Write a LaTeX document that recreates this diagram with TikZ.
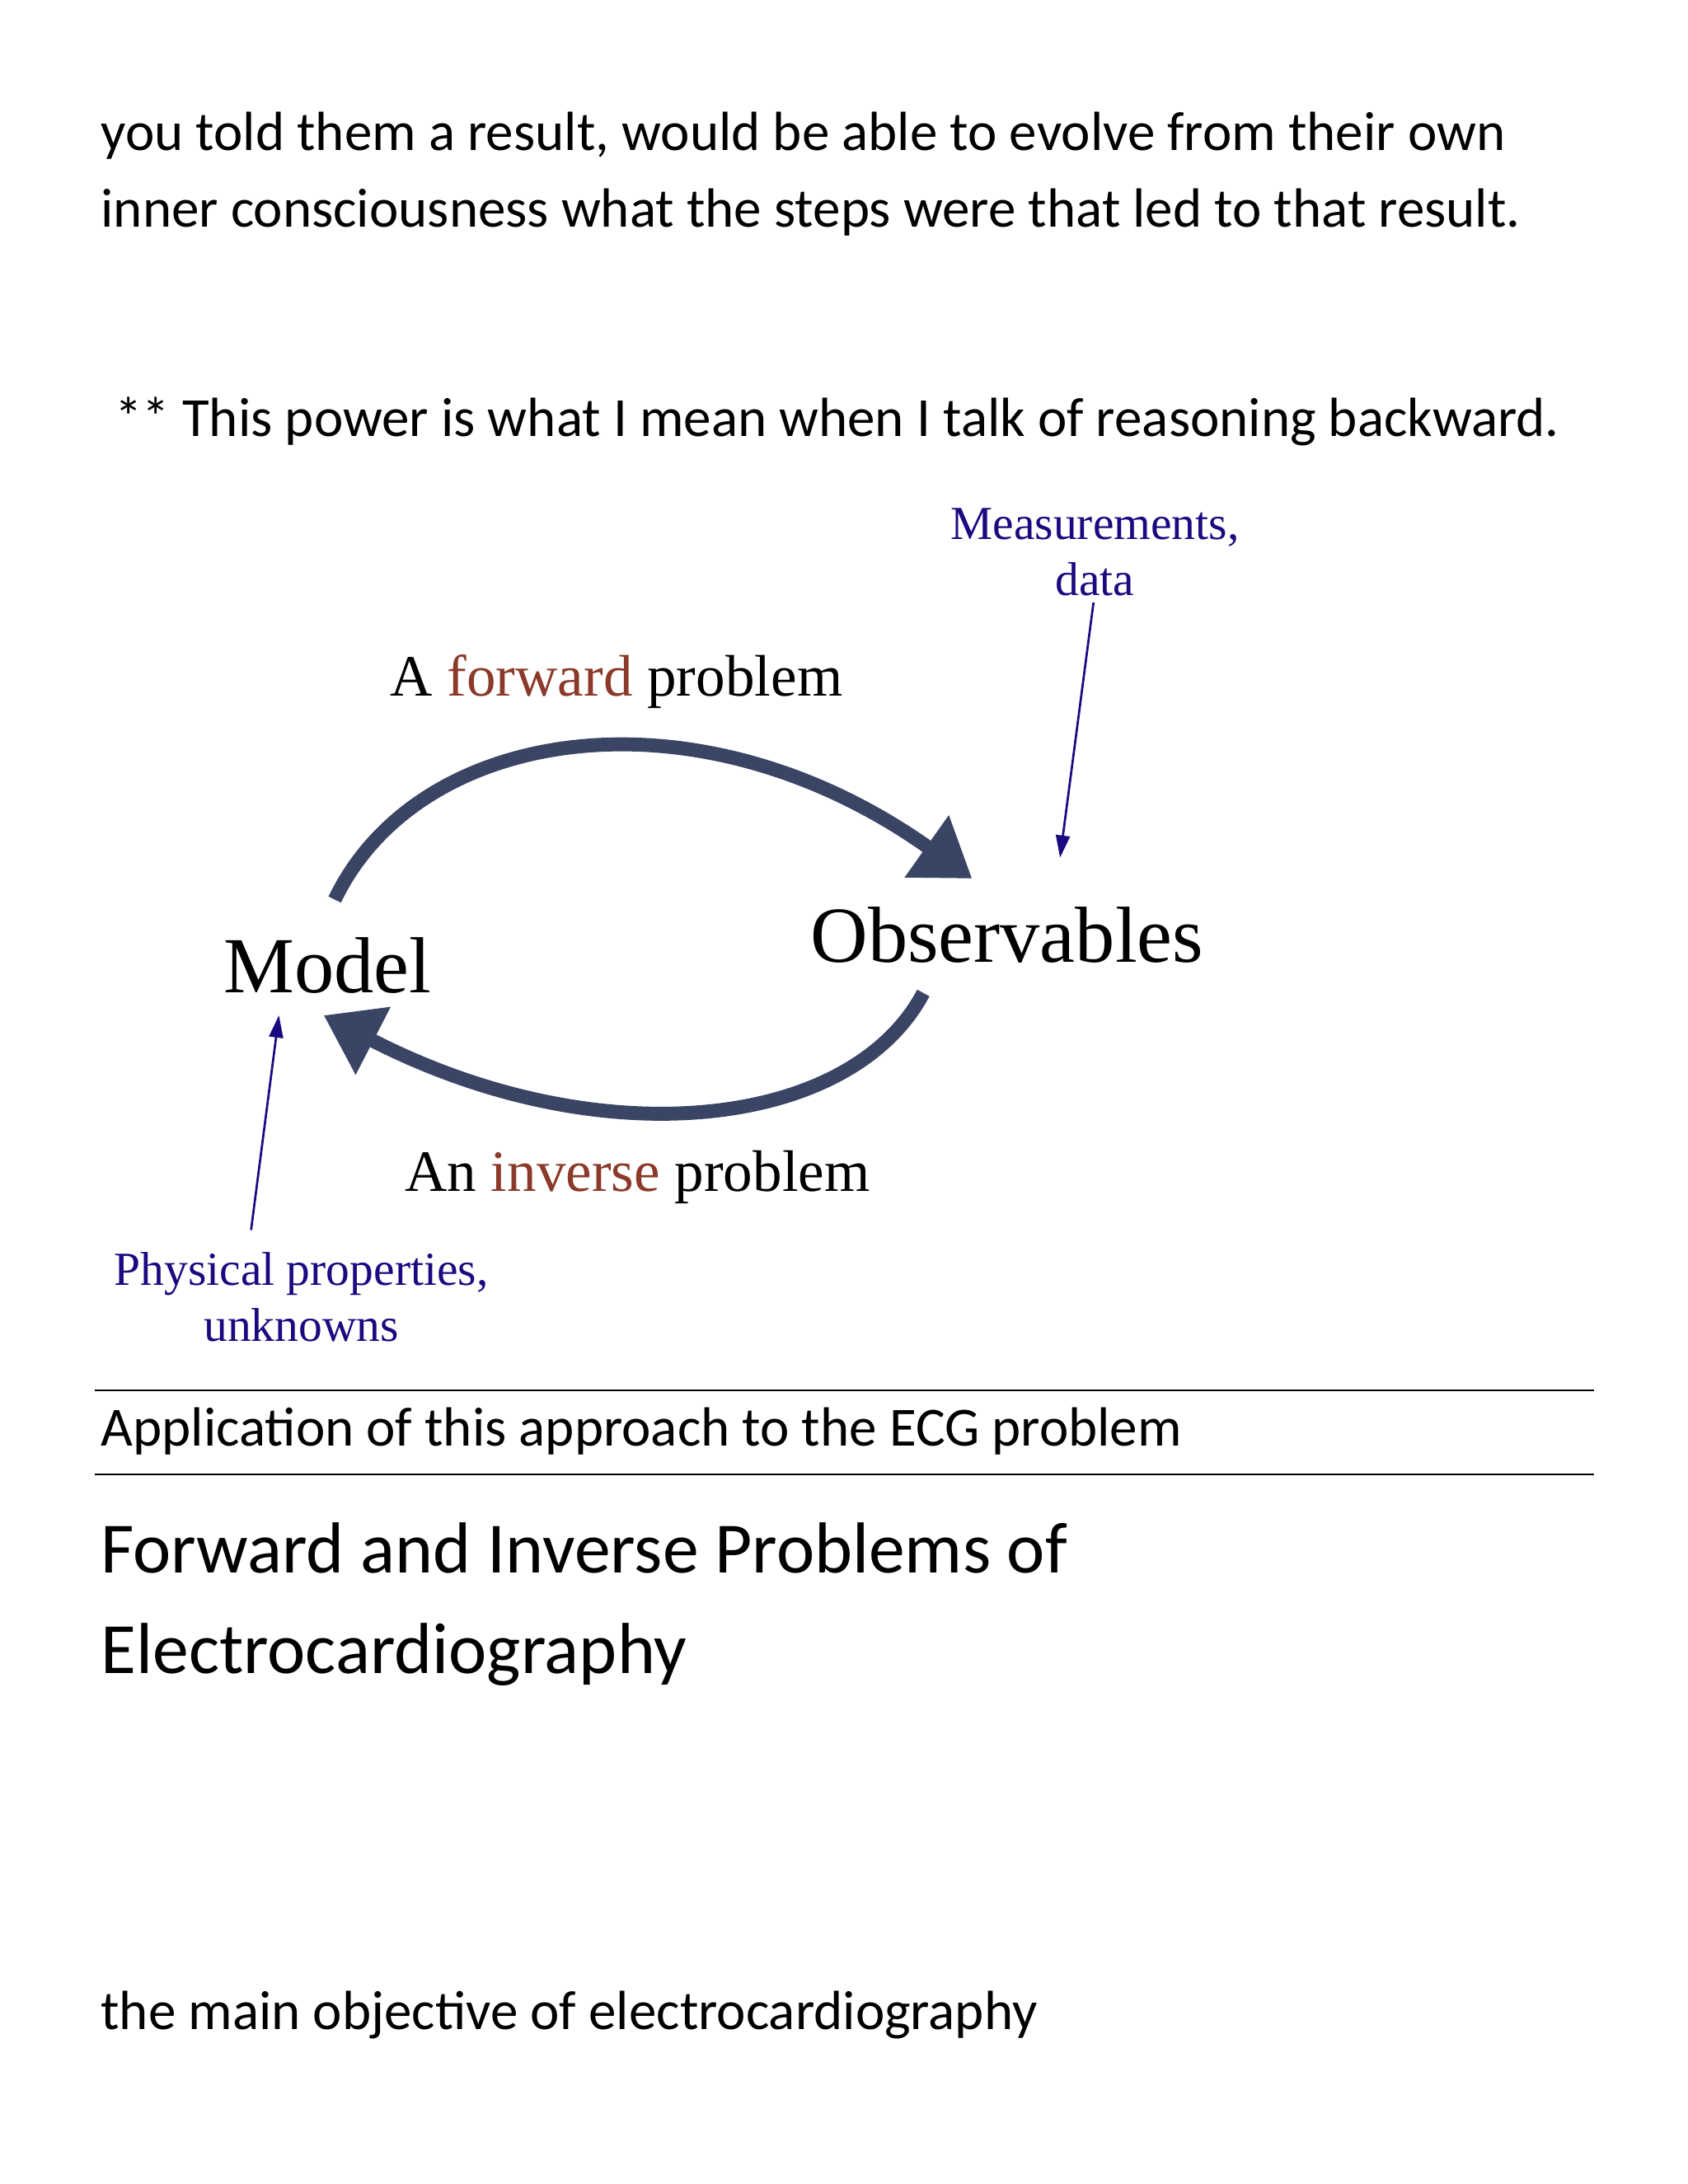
\documentclass[tikz,border=0pt]{standalone}
\usepackage{fontspec}
\setmainfont{Carlito}
\newfontfamily\tms{Liberation Serif}
\usetikzlibrary{arrows.meta}
\definecolor{navy}{HTML}{1A0A80}
\definecolor{brn}{HTML}{8B3A2A}
\definecolor{slate}{HTML}{3A4565}
\tikzset{
 body/.style={anchor=base west,inner sep=0pt,font=\fontsize{19.8}{24}\selectfont},
 title/.style={anchor=base west,inner sep=0pt,font=\fontsize{25.9}{30}\selectfont},
 lbl/.style={inner sep=0pt,font=\tms\fontsize{17}{20}\selectfont,text=navy,align=center},
 prob/.style={anchor=base,inner sep=0pt,font=\tms\fontsize{21}{24}\selectfont},
 big/.style={anchor=base,inner sep=0pt,font=\tms\fontsize{28.5}{32}\selectfont},
 thick arr/.style={slate,line width=5pt,-{Triangle[length=20pt,width=26pt]}},
 thin arr/.style={navy,line width=0.8pt,-{Triangle[length=8pt,width=5pt]}},
 rule/.style={line width=0.6pt}
}
\begin{document}
\begin{tikzpicture}[x=0.5pt,y=-0.5pt]
\useasboundingbox[fill=white] (0,0) rectangle (1210,1566);
\node[body] (l1) at (72,108) {you told them a result, would be able to evolve from their own};
\node[body] (l2) at (72,163) {inner consciousness what the steps were that led to that result.};
\node[body] (l3) at (82,313) {** This power is what I mean when I talk of reasoning backward.};
\node[lbl] (meas) at (785,396) {Measurements,\\data};
\node[prob] (fwd) at (442,499) {A \textcolor{brn}{forward} problem};
\node[big] (model) at (235,712) {Model};
\node[big] (obs) at (722,690) {Observables};
\node[prob] (inv) at (457,854) {An \textcolor{brn}{inverse} problem};
\node[lbl] (phys) at (216,930) {Physical properties,\\unknowns};
\coordinate (f1) at (240,645); \coordinate (f2) at (697,630);
\coordinate (i1) at (662,712); \coordinate (i2) at (232,728);
\draw[thick arr] (f1) .. controls (300,520) and (500,490) .. (f2);
\draw[thick arr] (i1) .. controls (610,810) and (430,830) .. (i2);
\coordinate (m1) at (784,432); \coordinate (m2) at (760,615);
\coordinate (p1) at (180,882); \coordinate (p2) at (200,728);
\draw[thin arr] (m1) -- (m2);
\draw[thin arr] (p1) -- (p2);
\coordinate (r1a) at (68,997); \coordinate (r1b) at (1143,997);
\coordinate (r2a) at (68,1057); \coordinate (r2b) at (1143,1057);
\draw[rule] (r1a) -- (r1b);
\draw[rule] (r2a) -- (r2b);
\node[body] (app) at (72,1037) {Application of this approach to the ECG problem};
\node[title] (t1) at (72,1128) {Forward and Inverse Problems of};
\node[title] (t2) at (72,1200) {Electrocardiography};
\node[body] (last) at (72,1455) {the main objective of electrocardiography};
\end{tikzpicture}
\end{document}
